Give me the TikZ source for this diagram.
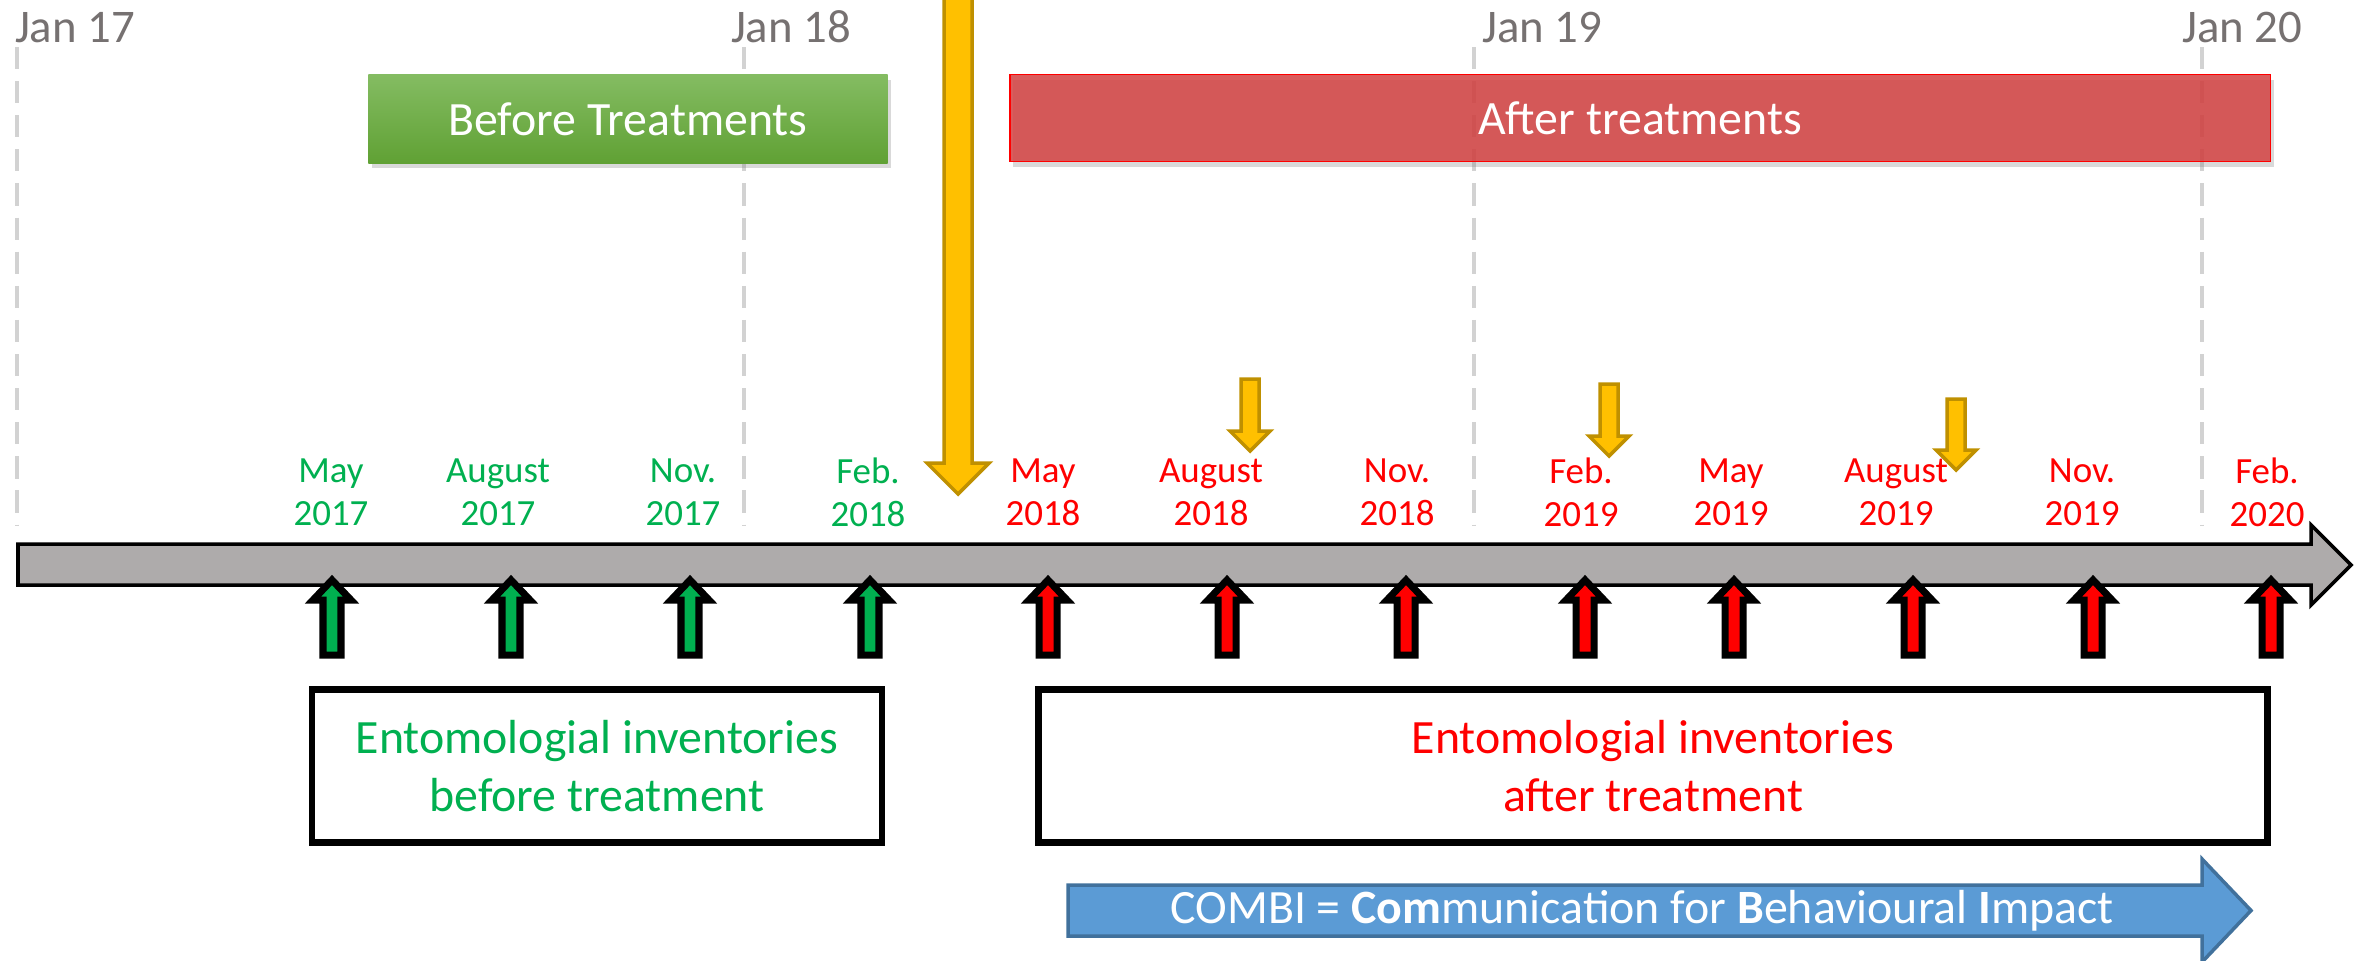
\documentclass[tikz,border=0pt]{standalone}
\usepackage{fontspec}
\setmainfont{Carlito}
\usetikzlibrary{shadows}
\definecolor{tlgreen}{RGB}{0,176,80}
\definecolor{tlred}{RGB}{255,0,0}
\definecolor{tlgray}{RGB}{174,171,171}
\definecolor{jangray}{RGB}{118,113,113}
\definecolor{janline}{RGB}{210,210,210}
\definecolor{gold}{RGB}{255,192,0}
\definecolor{goldline}{RGB}{191,144,0}
\definecolor{combiblue}{RGB}{91,155,213}
\definecolor{combiline}{RGB}{65,113,156}
\definecolor{greentop}{RGB}{132,188,98}
\definecolor{greenbot}{RGB}{96,161,52}
\definecolor{afterred}{RGB}{212,65,65}
\tikzset{
  janlab/.style={text=jangray,font=\fontsize{13.3}{16}\selectfont,inner sep=0pt,anchor=base},
  janrule/.style={janline,line width=1.15pt,dash pattern=on 6.3pt off 3.4pt},
  month/.style={font=\fontsize{10.5}{12.2}\selectfont,align=center,inner sep=0pt},
  bigtext/.style={font=\fontsize{13.6}{16.5}\selectfont,align=center},
  invbox/.style={draw=black,line width=1.8pt,fill=white,bigtext,inner sep=0pt},
  phasebox/.style={bigtext,text=white,inner sep=0pt,
    drop shadow={shadow xshift=1pt,shadow yshift=-1.5pt,opacity=0.3}},
  upmark/.style={draw=black,line width=2pt,line join=miter},
  goldarrow/.style={fill=gold,draw=goldline,line width=1pt},
}
\newcommand{\spot}[2]{\coordinate (#1) at (#2);}
\newcommand{\uparr}[2]{\draw[upmark,fill=#2] ({#1},580) -- ({#1+19},600) -- ({#1+9},600)
  -- ({#1+9},655) -- ({#1-9},655) -- ({#1-9},600) -- ({#1-19},600) -- cycle;}
\newcommand{\downarr}[4]{\draw[goldarrow] ({#1-9},#2) -- ({#1+9},#2) -- ({#1+9},#3)
  -- ({#1+20},#3) -- ({#1},#4) -- ({#1-20},#3) -- ({#1-9},#3) -- cycle;}
\newcommand{\mlab}[4]{\node[month,text=#2] (#1) at (#3,492) {#4};}

\begin{document}
\begin{tikzpicture}[x=0.01cm,y=-0.01cm]
    \useasboundingbox (0,0) rectangle (2364,960);
    \pgfmathsetmacro{\rtop}{47};
    \pgfmathsetmacro{\rbot}{525};
      % year rules
      \spot{r17}{17,\rtop};
      \spot{r18}{744,\rtop};
      \spot{r19}{1474,\rtop};
      \spot{r20}{2202,\rtop};
      \draw[janrule] (r17) -- (17,\rbot);
      \draw[janrule] (r18) -- (744,\rbot);
      \draw[janrule] (r19) -- (1474,\rbot);
      \draw[janrule] (r20) -- (2202,\rbot);
      \node[janlab] (j17) at (75,42) {Jan 17};
      \node[janlab] (j18) at (791,42) {Jan 18};
      \node[janlab] (j19) at (1542,42) {Jan 19};
      \node[janlab] (j20) at (2242,42) {Jan 20};

      % phases
      \node[phasebox,top color=greentop,bottom color=greenbot,
        minimum width=5.19cm,minimum height=0.88cm] (trbefore) at (628,119) {Before Treatments};
      \node[phasebox,fill=afterred,fill opacity=0.85,text opacity=1,draw=tlred,line width=0.5pt,
        minimum width=12.6cm,minimum height=0.87cm] (trafter) at (1640,118) {After treatments};

      % time line
      \draw[fill=tlgray,draw=black,line width=1pt] (18,544) -- (2311,544) -- (2311,525)
        -- (2351,565) -- (2311,605) -- (2311,585) -- (18,585) -- cycle;

      % months
      \mlab{m1}{tlgreen}{331}{May\\2017};
      \mlab{m2}{tlgreen}{498}{August\\2017};
      \mlab{m3}{tlgreen}{683}{Nov.\\2017};
      \mlab{m4}{tlgreen}{868}{Feb.\\2018};
      \mlab{m5}{tlred}{1043}{May\\2018};
      \mlab{m6}{tlred}{1211}{August\\2018};
      \mlab{m7}{tlred}{1397}{Nov.\\2018};
      \mlab{m8}{tlred}{1581}{Feb.\\2019};
      \mlab{m9}{tlred}{1731}{May\\2019};
      \mlab{m10}{tlred}{1896}{August\\2019};
      \mlab{m11}{tlred}{2082}{Nov.\\2019};
      \mlab{m12}{tlred}{2267}{Feb.\\2020};

      % inventories
      \uparr{332}{tlgreen};
      \uparr{511}{tlgreen};
      \uparr{690}{tlgreen};
      \uparr{870}{tlgreen};
      \uparr{1048}{tlred};
      \uparr{1227}{tlred};
      \uparr{1406}{tlred};
      \uparr{1585}{tlred};
      \uparr{1734}{tlred};
      \uparr{1913}{tlred};
      \uparr{2093}{tlred};
      \uparr{2271}{tlred};

      % treatments
      \draw[goldarrow] (944,-10) -- (972,-10) -- (972,463) -- (989,463) -- (958,494)
        -- (927,463) -- (944,463) -- cycle;
      \downarr{1250}{379}{431}{451};
      \downarr{1609}{384}{436}{456};
      \downarr{1956}{399}{450}{470};

      \node[invbox,text=tlgreen,minimum width=5.7cm,minimum height=1.53cm] (invbefore) at (597,766)
        {Entomologial inventories\\before treatment};
      \node[invbox,text=tlred,minimum width=12.28cm,minimum height=1.53cm] (invafter) at (1653,766)
        {Entomologial inventories\\after treatment};

      % combi
      \draw[fill=combiblue,draw=combiline,line width=1pt] (1068,885) -- (2202,885) -- (2202,859)
        -- (2251,910.5) -- (2202,962) -- (2202,936) -- (1068,936) -- cycle;
      \node[bigtext,text=white,inner sep=0pt] (combi) at (1642,910.5)
        {COMBI = \textbf{Com}munication for \textbf{B}ehavioural \textbf{I}mpact};
  \end{tikzpicture}
\end{document}
